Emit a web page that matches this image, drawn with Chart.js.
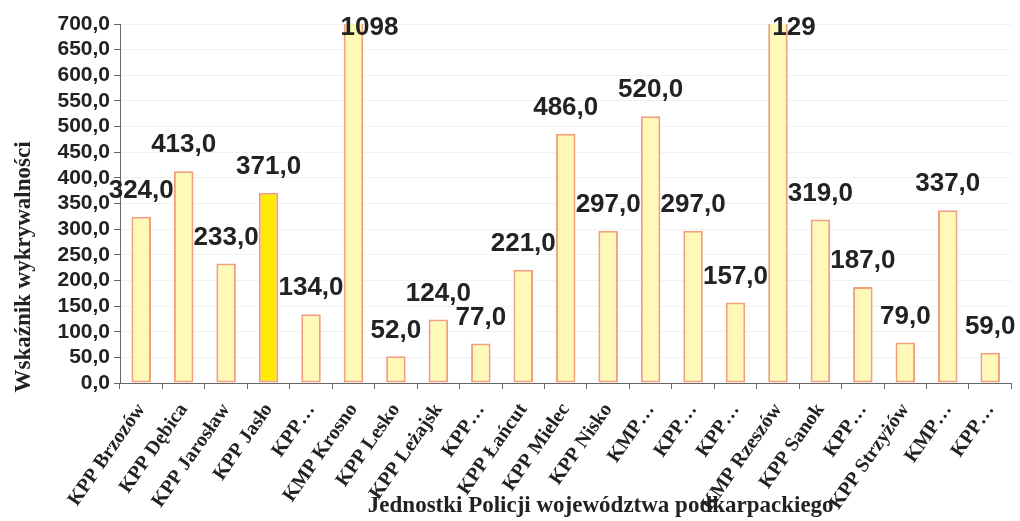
<!DOCTYPE html>
<html>
<head>
<meta charset="utf-8">
<script src="https://cdn.jsdelivr.net/npm/chart.js@4/dist/chart.umd.min.js"></script>
<style>
  html, body { margin: 0; padding: 0; background: #fff; }
  #wrap { width: 1020px; height: 521px; }
</style>
</head>
<body>
<div id="wrap"><canvas id="chart"></canvas></div>
<script>
const units = [
  "KPP Brzozów", "KPP Dębica", "KPP Jarosław", "KPP Jasło", "KPP…",
  "KMP Krosno", "KPP Lesko", "KPP Leżajsk", "KPP…", "KPP Łańcut",
  "KPP Mielec", "KPP Nisko", "KMP…", "KPP…", "KPP…",
  "KMP Rzeszów", "KPP Sanok", "KPP…", "KPP Strzyżów", "KMP…", "KPP…"
];
const detection = [324, 413, 233, 371, 134, 1098, 52, 124, 77, 221, 486, 297, 520, 297, 157, 1290, 319, 187, 79, 337, 59];
// text shown above each bar (the two tall ones are cut off in the original)
const valueLabels = [
  "324,0", "413,0", "233,0", "371,0", "134,0", "1098", "52,0", "124,0", "77,0", "221,0",
  "486,0", "297,0", "520,0", "297,0", "157,0", "129", "319,0", "187,0", "79,0", "337,0", "59,0"
];
const highlighted = "KPP Jasło";

const fillColors = units.map(u => u === highlighted ? "#FFEA00" : "#FFF9B8");

const serif = "'Liberation Serif', 'Times New Roman', serif";
const sans = "'Liberation Sans', Arial, sans-serif";

const valueLabelPlugin = {
  id: "valueLabels",
  afterDatasetsDraw(chart) {
    const { ctx, chartArea } = chart;
    const meta = chart.getDatasetMeta(0);
    ctx.save();
    ctx.font = "bold 26px " + sans;
    ctx.fillStyle = "#222";
    ctx.textAlign = "center";
    ctx.textBaseline = "middle";
    meta.data.forEach((bar, i) => {
      let y = bar.y - 26;
      let x = bar.x;
      if (y < chartArea.top + 4) {
        y = chartArea.top + 4;
        x += 16;
      }
      ctx.fillText(valueLabels[i], x, y);
    });
    ctx.restore();
  }
};

// axis titles drawn by hand so they sit where the original has them
const axisTitlePlugin = {
  id: "axisTitles",
  afterDraw(chart) {
    const { ctx, chartArea } = chart;
    ctx.save();
    ctx.font = "bold 23px " + serif;
    ctx.fillStyle = "#222";
    ctx.textAlign = "center";
    ctx.textBaseline = "middle";
    ctx.fillText("Jednostki Policji województwa podkarpackiego",
      (chartArea.left + chartArea.right) / 2 + 35, chart.height - 15);
    ctx.translate(24, chartArea.bottom - 116);
    ctx.rotate(-Math.PI / 2);
    ctx.fillText("Wskaźnik wykrywalności", 0, 0);
    ctx.restore();
  }
};

new Chart(document.getElementById("chart"), {
  type: "bar",
  data: {
    labels: units,
    datasets: [{
      label: "Wskaźnik wykrywalności",
      data: detection,
      backgroundColor: fillColors,
      borderColor: "#F2A07C",
      borderWidth: 2,
      borderSkipped: false,
      categoryPercentage: 1,
      barPercentage: 0.46
    }]
  },
  options: {
    responsive: true,
    maintainAspectRatio: false,
    animation: false,
    layout: { padding: { top: 24, right: 6, left: 0, bottom: 0 } },
    plugins: {
      legend: { display: false },
      tooltip: { enabled: false }
    },
    scales: {
      y: {
        min: 0,
        max: 700,
        afterFit: s => { s.width = 120; },
        ticks: {
          stepSize: 50,
          autoSkip: false,
          color: "#222",
          font: { family: sans, size: 21, weight: "bold" },
          padding: 4,
          callback: v => v.toFixed(1).replace(".", ",")
        },
        grid: { color: "#f1f1f1", tickColor: "#666", tickLength: 6 },
        border: { color: "#666", width: 1 }
      },
      x: {
        afterFit: s => { s.height = 138; },
        ticks: {
          color: "#222",
          minRotation: 55,
          maxRotation: 55,
          autoSkip: false,
          padding: 10,
          font: { family: serif, size: 20, weight: "bold" }
        },
        grid: { drawOnChartArea: false, tickColor: "#666", tickLength: 6, offset: true },
        border: { color: "#666", width: 1 }
      }
    }
  },
  plugins: [valueLabelPlugin, axisTitlePlugin]
});
</script>
</body>
</html>
